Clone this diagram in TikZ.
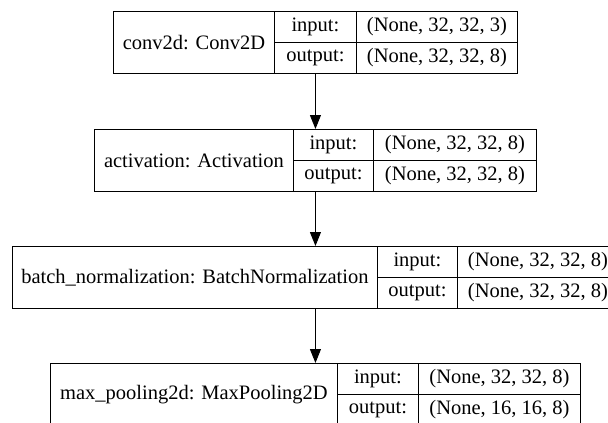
\documentclass[tikz,border=0pt]{standalone}
\usepackage{fontspec}
\setmainfont{Liberation Serif}
\usepackage{tikz}
\usetikzlibrary{arrows.meta}

\begin{document}
\begin{tikzpicture}[x=1pt, y=-1pt, font=\fontsize{20.5}{24}\selectfont,
  layer/.style={draw, rectangle, line width=0.9pt, inner sep=0pt, minimum height=62pt, anchor=north west},
  cell/.style={draw, rectangle, line width=0.9pt, inner sep=0pt, minimum height=31pt, anchor=north west},
  flow/.style={line width=0.9pt, -{Triangle[length=14pt, width=11pt]}}]
\useasboundingbox (0,0) rectangle (608,423);
\clip (0,0) rectangle (608,423);

% conv2d
\node[layer, minimum width=404pt] (conv) at (113,11) {};
\node[layer, minimum width=161pt] (convname) at (113,11) {conv2d: Conv2D};
\node[cell, minimum width=82pt] (convin) at (274,11) {input:};
\node[cell, minimum width=82pt] (convout) at (274,42) {output:};
\node[cell, minimum width=161pt] (convinv) at (356,11) {(None, 32, 32, 3)};
\node[cell, minimum width=161pt] (convoutv) at (356,42) {(None, 32, 32, 8)};

% activation
\node[layer, minimum width=442pt] (act) at (94,129) {};
\node[layer, minimum width=199pt] (actname) at (94,129) {activation: Activation};
\node[cell, minimum width=80pt] (actin) at (293,129) {input:};
\node[cell, minimum width=80pt] (actout) at (293,160) {output:};
\node[cell, minimum width=163pt] (actinv) at (373,129) {(None, 32, 32, 8)};
\node[cell, minimum width=163pt] (actoutv) at (373,160) {(None, 32, 32, 8)};

% batch normalization
\node[layer, minimum width=606pt] (bn) at (12,246) {};
\node[layer, minimum width=365pt] (bnname) at (12,246) {batch\_normalization: BatchNormalization};
\node[cell, minimum width=80pt] (bnin) at (377,246) {input:};
\node[cell, minimum width=80pt] (bnout) at (377,277) {output:};
\node[cell, minimum width=161pt] (bninv) at (457,246) {(None, 32, 32, 8)};
\node[cell, minimum width=161pt] (bnoutv) at (457,277) {(None, 32, 32, 8)};

% max pooling
\node[layer, minimum width=530pt] (pool) at (50,363) {};
\node[layer, minimum width=287pt] (poolname) at (50,363) {max\_pooling2d: MaxPooling2D};
\node[cell, minimum width=81pt] (poolin) at (337,363) {input:};
\node[cell, minimum width=81pt] (poolout) at (337,394) {output:};
\node[cell, minimum width=162pt] (poolinv) at (418,363) {(None, 32, 32, 8)};
\node[cell, minimum width=162pt] (pooloutv) at (418,394) {(None, 16, 16, 8)};

\draw[flow] (conv.south) -- (act.north);
\draw[flow] (act.south) -- (bn.north);
\draw[flow] (bn.south) -- (pool.north);
\end{tikzpicture}
\end{document}
